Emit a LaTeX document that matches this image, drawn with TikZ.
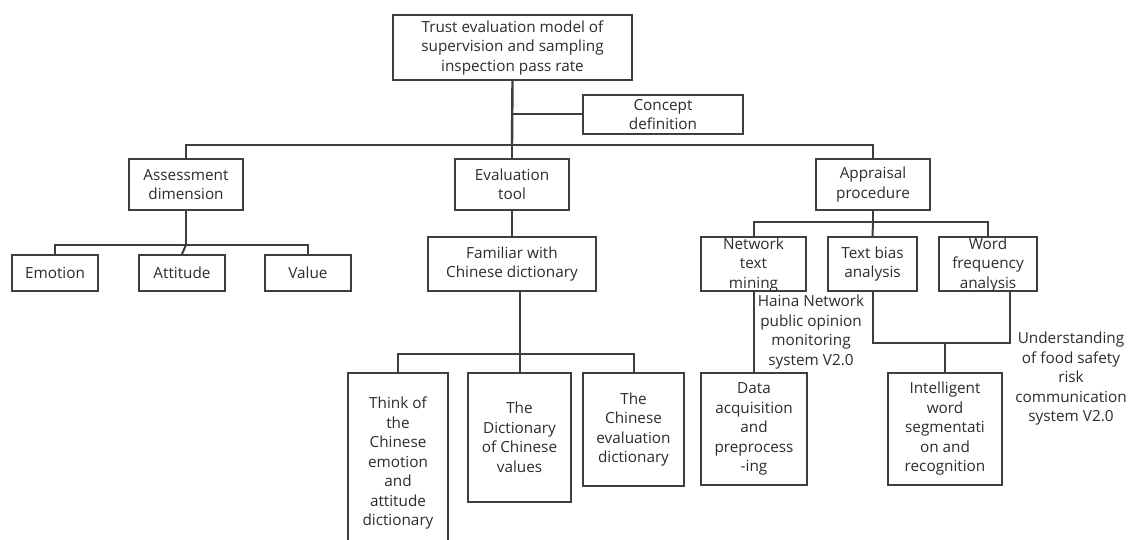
\documentclass[tikz,border=0pt]{standalone}
\usepackage{fontspec}
\setmainfont{Open Sans}
\usetikzlibrary{calc}
\definecolor{ln}{HTML}{3C3E40}
\definecolor{tx}{HTML}{2C2C2C}
\tikzset{
  box/.style={draw=ln, line width=2pt, fill=white, inner sep=0pt, align=center, text=tx,
    font=\fontsize{15.3}{19.5}\selectfont},
  lbl/.style={inner sep=0pt, align=center, text=tx, font=\fontsize{15.3}{19.5}\selectfont},
  con/.style={draw=ln, line width=2pt},
  bus/.style={draw=ln, line width=2.4pt}
}
\begin{document}
\begin{tikzpicture}[x=1pt,y=-1pt]
\useasboundingbox (0,0) rectangle (1129,540);
\clip (0,0) rectangle (1129,540);
\fill[white] (0,0) rectangle (1129,540);
% nodes
\node[box, minimum width=239pt, minimum height=65pt] (top) at (512.5,47.5) {Trust evaluation model of\\supervision and sampling\\inspection pass rate};
\node[box, minimum width=160pt, minimum height=39pt] (concept) at (663,114.5) {Concept\\definition};
\node[box, minimum width=114pt, minimum height=51pt] (assess) at (186,184.5) {Assessment\\dimension};
\node[box, minimum width=114pt, minimum height=51pt] (evaltool) at (512,184.5) {Evaluation\\tool};
\node[box, minimum width=114pt, minimum height=51pt] (appr) at (873,184.5) {Appraisal\\procedure};
\node[box, minimum width=86pt, minimum height=36pt] (emotion) at (55,273) {Emotion};
\node[box, minimum width=86pt, minimum height=36pt] (attitude) at (182,273) {Attitude};
\node[box, minimum width=86pt, minimum height=36pt] (value) at (308,273) {Value};
\node[box, minimum width=168pt, minimum height=54pt] (familiar) at (512,264) {Familiar with\\Chinese dictionary};
\node[box, minimum width=105pt, minimum height=54pt] (network) at (753.5,264) {};
\node[lbl] (networkt) at (753.5,265) {Network\\text\\mining};
\node[box, minimum width=89pt, minimum height=54pt] (textbias) at (872.5,264) {Text bias\\analysis};
\node[box, minimum width=98pt, minimum height=54pt] (wordfreq) at (988,264) {};
\node[lbl] (wordfreqt) at (988,265) {Word\\frequency\\analysis};
\node[box, minimum width=100pt, minimum height=180pt] (think) at (398,463) {Think of\\the\\Chinese\\emotion\\and\\attitude\\dictionary};
\node[box, minimum width=103pt, minimum height=129pt] (dict) at (519.5,437.5) {The\\Dictionary\\of Chinese\\values};
\node[box, minimum width=101pt, minimum height=113pt] (evald) at (633.5,429.5) {The\\Chinese\\evaluation\\dictionary};
\node[box, minimum width=106pt, minimum height=112pt] (data) at (754,429) {Data\\acquisition\\and\\preprocess\\-ing};
\node[box, minimum width=114pt, minimum height=112pt] (intel) at (945,429) {Intelligent\\word\\segmentati\\on and\\recognition};
\node[lbl] (haina) at (811,332) {Haina Network\\public opinion\\monitoring\\system V2.0};
\node[lbl] (underst) at (1071,379) {Understanding\\of food safety\\risk\\communication\\system V2.0};
% bus coordinates
\coordinate (b1) at (512,145);
\coordinate (b2) at (186,245);
\coordinate (b3) at (519.5,354);
\coordinate (b4) at (873,222);
\coordinate (b5) at (945,343);
\coordinate (wfx) at (1010,291);
\coordinate (wfc) at (1010,343);
% connectors
\draw[bus] (top.south) -- (b1);
\draw[con] (top.south |- concept.west) -- (concept.west);
\draw[bus] (assess.north) |- (b1) -| (appr.north);
\draw[bus] (b1) -- (evaltool.north);
\draw[con] (assess.south) -- (b2);
\draw[con] (emotion.north) |- (b2) -| (value.north);
\draw[con] (b2) -- (attitude.north);
\draw[con] (evaltool.south) -- (familiar.north);
\draw[con] (dict.north |- familiar.south) -- (dict.north);
\draw[con] (think.north) |- (b3) -| (evald.north);
\draw[con] (appr.south) -- (b4);
\draw[con] (network.north) |- (b4) -| (wordfreq.north);
\draw[con] (b4) -- (textbias.north);
\draw[con] (data.north |- network.south) -- (data.north);
\draw[con] (textbias.south) |- (wfc) -- (wfx);
\draw[con] (b5) -- (intel.north);
\end{tikzpicture}
\end{document}
